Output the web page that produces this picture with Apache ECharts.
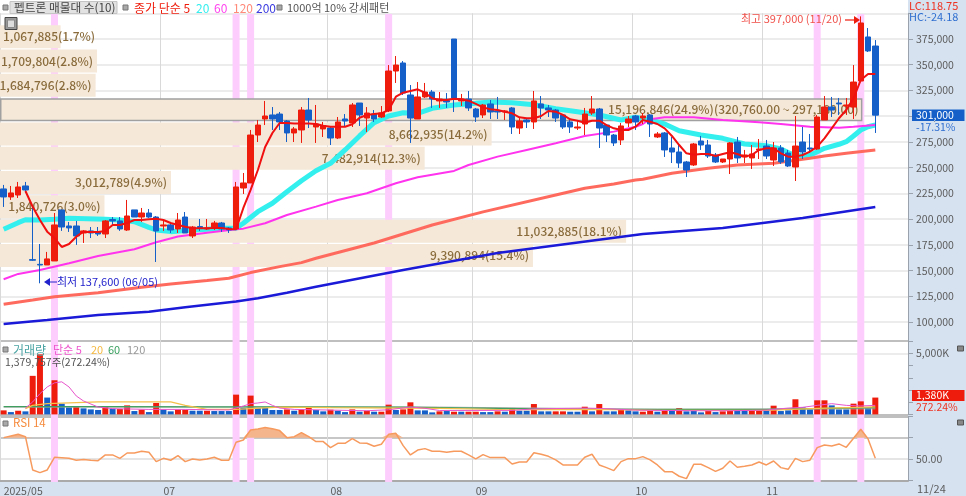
<!DOCTYPE html>
<html><head><meta charset="utf-8">
<style>html,body{margin:0;padding:0;background:#d6e2f0}#c{width:966px;height:496px}</style>
<script src="https://cdn.jsdelivr.net/npm/echarts@6/dist/echarts.min.js"></script>
</head><body><div id="c"></div>
<script>
// Prices are in thousands of won: [open, close, low, high]
const ohlc=[[229.3,221.5,211.8,233.2],[221.5,225.4,218.6,232.2],[223.4,231.2,220.5,236.1],[232.2,228.3,225.4,236.1],[160.6,160,159.3,211.8],[156,155.4,137.6,175.8],[155.4,161.3,155.4,168.1],[159.3,194.3,159.3,205.9],[208.9,192.3,188.5,208.9],[193.3,191.4,187.5,197.2],
[193.3,183.6,174.9,198.2],[186.5,188.5,176.8,189.4],[188.5,186.5,181.6,192.3],[187.5,185.5,183.6,192.3],[185.5,198.2,181.6,199.1],[199.6,198.2,193.3,202],[198.2,190.4,188.5,202],[189.4,203,188.5,218.6],[208.9,202,202,208.9],[202,205.9,197.2,210.8],
[205.9,202,201.1,209.8],[202,188.5,158.3,203],[193.3,194.3,188.5,199.1],[194.3,189.4,186.5,197.2],[190.4,199.1,186.5,205.9],[202,186.5,186.5,206.9],[183.6,192.3,181.6,193.3],[192.8,191.4,188.5,200.1],[190.4,191.4,189.4,200.1],[192.3,196.2,189.4,198.2],
[196.2,190.4,187.5,197.2],[191.4,189.4,186.5,192.3],[190.4,231.2,189.4,236.1],[230.2,235.1,224.4,244.8],[235.1,281.7,235.1,286.6],[281.7,291.4,274.9,296.3],[297.3,300.2,291.4,314.8],[301.2,297.3,286.6,308.9],[302.1,294.4,286.6,304.1],[295.3,283.7,274.9,296.3],
[283.7,287.6,274.9,289.5],[286.6,306,274,308.9],[306,296.3,288.5,317.7],[289.5,292.4,274,310.9],[287.6,290.5,279.8,294.4],[288.5,278.8,272,289.5],[278.8,294.4,277.8,299.2],[297.3,295.3,289.5,302.1],[293.4,310.9,289.5,312.8],[312.8,301.2,290.5,312.8],
[298.2,303.1,284.6,308.9],[302.1,297.3,294.4,306],[299.2,303.1,298.2,309.9],[305.1,343.9,304.1,349.7],[343.9,349.7,332.3,358.5],[351.7,322.5,320.6,353.6],[320.6,298.2,274,330.3],[297.3,318.7,297.3,333.2],[318.7,323.5,317.7,332.3],[323.5,316.7,308,325.5],
[314.8,316.7,308,323.5],[315.2,313.8,308,322.5],[375,317.7,304.1,375],[314.8,316.7,309.9,321.6],[316.7,308,305.1,324.5],[307,299.2,294.4,308],[301.2,310.9,298.2,311.9],[311.9,304.1,297.3,315.7],[305.1,304.1,297.3,318.7],[304.1,305.1,296.3,306],
[308,289.5,282.7,308.9],[288.5,295.3,282.7,298.2],[296.3,294.4,288.5,298.2],[294.4,314.8,287.6,324.5],[311.9,308,297.3,319.6],[308,306,299.2,310.9],[306,298.2,294.4,307],[301.2,289.5,287.6,302.1],[294.4,289.5,283.7,296.3],[288.5,289.5,286.6,296.3],
[292.4,302.1,281.7,308],[303.1,307,301.2,319.6],[307,288.5,269.1,308],[291.4,281.7,274.9,292.4],[281.7,274,271,282.7],[276.9,290.5,272,293.4],[293.4,297.3,289.5,300.2],[300.2,294.4,286.6,301.2],[298.2,300.2,292.4,303.1],[301.2,292.4,279.8,302.1],
[279.8,282.7,278.8,284.6],[283.7,267.2,260.4,284.6],[269.1,265.2,254.5,279.8],[265.2,254.5,249.7,273],[255.5,247.7,240.9,256.5],[252.6,273,251.6,274],[275.9,272,267.2,280.8],[272,261.3,259.4,276.9],[262.3,255.5,254.5,264.2],[255.5,258.4,254.5,258.4],
[258.4,274,243.8,274.9],[274.9,259.4,254.5,279.8],[260.4,262.3,254.5,267.2],[259.4,263.3,248.7,272],[267.2,268.1,258.4,277.8],[271,261.3,258.4,276.9],[257.4,269.1,251.6,274.9],[269.1,255.5,253.6,272],[264.2,251.6,250.6,267.2],[250.6,271,237,300.2],
[274.9,265.2,258.4,289.5],[269.1,268.1,264.2,282.7],[268.1,299.2,267.2,301.2],[296.3,308.9,296.3,319.6],[308.9,306,299.2,318.7],[312.8,311.9,301.2,317.7],[309.9,310.9,301.2,317.7],[308.9,333.2,297.3,349.7],[334.2,390.6,333.2,397],[377,363.4,362.4,385.7],[368.2,301,283.7,374]];
const ma5=[null,null,null,227.3,212,199.1,187.8,181.6,172.9,175.8,182.9,187.8,187.5,187.5,188.5,194.3,194.3,196.2,199.1,199.1,199.8,200.4,199.1,196.2,194.3,192.6,191,191,191,191.4,191.4,190.4,190.1,210.8,228.3,247.7,270,283.7,293.4,293.4,292.9,293,293,292.4,290.8,289.8,289.8,289.8,292.1,298.5,301.2,302.1,302.8,306,318.9,322.8,324.5,326.1,322.8,317.4,315.7,315.7,317,316.4,315.1,311.9,308.6,306.7,306,304.4,302.8,298.9,298,298,300.2,305,304.4,301.2,297,295.6,293.7,295.6,295.6,291.4,288.2,286.6,286.6,289.8,296.3,294.6,292.4,288.2,280.8,272,263.9,262.6,263.3,263.3,261.3,263.3,264.9,263.3,260.7,262.3,267.2,268.8,268.8,263.9,260.7,260.7,262.3,265.5,270.4,278.5,288.2,298,306,317.4,335.2,341,341];
const ma20=[[0,190.1],[2,196.5],[3,199.4],[5,199.1],[7,199.8],[9,200.8],[14,199.8],[16,199.1],[18,197.5],[20,192],[21,189.4],[23,187.8],[25,188.8],[28,190.1],[30,191.1],[32,191.1],[33,195.9],[35,207.2],[37,215.4],[39,226.6],[41,237.3],[43,247],[45,254.2],[47,267.2],[49,280.8],[51,293.7],[53,300.2],[55,303.4],[57,302.8],[59,307.7],[62,310.9],[65,312.5],[67,313.8],[70,313.1],[73,311.2],[76,307.3],[79,304.4],[82,301.2],[85,296.3],[87,298.9],[89,296.3],[91,292.4],[93,285.9],[96,281.7],[99,278.5],[102,273],[105,271.3],[107,268.1],[109,261.3],[111,262],[113,268.8],[115,272.7],[116,275.2],[117,280.8],[118,286.6],[119,289.8],[120,291.4]];
const ma60=[[0,141.5],[2,146.7],[5,150.6],[9,157.1],[13,164.2],[18,170.7],[21,177.5],[24,183],[28,186.8],[32,190.1],[33,190.7],[36,195.9],[39,204],[43,212.1],[46,218.6],[50,225.1],[54,234.8],[57,240.6],[62,246.8],[64,252.6],[68,260.7],[72,267.2],[76,273.7],[80,280.8],[84,285],[87,289.8],[88,292.4],[89,297],[91,298.9],[95,298.9],[99,296.3],[104,294.1],[107,292.4],[111,289.8],[115,288.8],[117,289.8],[120,291.4]];
const ma120=[[0,117.2],[4,121.4],[7,124.6],[13,128.5],[19,133.8],[23,137],[28,140.2],[31,142.5],[34,148],[38,153.8],[41,157.7],[43,161.9],[51,176.8],[59,194.3],[66,207],[76,223.4],[80,229.9],[84,234.1],[87,238],[88,238.7],[92,244.5],[97,249.4],[101,252.6],[106,254.2],[111,259.1],[113,261.3],[116,264],[120,267.2]];
const ma200=[[0,98.1],[6,102],[13,106.8],[20,110],[25,114.3],[32,119.8],[35,123.1],[39,128.5],[43,134.3],[55,150.6],[68,167.1],[88,185.5],[99,191.4],[110,201.1],[120,211.8]];
// Volume in thousands of shares; r = rising bar, b = falling bar
const volume=[330,190,300,250,3160,4920,1380,2800,880,580,690,495,410,360,690,470,440,740,275,385,190,935,385,250,385,385,300,300,300,275,275,275,1620,520,1540,520,580,360,360,410,300,410,580,360,250,385,300,190,410,220,300,220,220,800,360,410,990,330,330,165,250,275,220,220,220,220,190,190,250,220,495,300,300,850,250,250,250,250,220,220,630,250,850,250,250,410,330,250,220,300,220,300,300,520,250,300,165,275,190,250,410,410,300,300,360,360,715,275,330,1240,580,410,1155,1155,740,410,410,880,1070,520,1380];
const volumeDir="rbrbrrbrbb"+"rbbbrbrrbr"+"brbbrrbbrb"+"bbrbrbbbbr"+"brrb"+"brbbrb"+"rbrrbrrbbb"+"rbrbrrbbrb"+"rbbrbbrrbb"+"rbrbbrbb"+"rrbrbrbbbrbr"+"rbbrrbrbbr"+"bbrrbbbrrbr";
const volMa5=[[3,520],[4,1020],[5,1700],[6,2250],[7,2585],[8,2670],[9,2250],[10,1510],[11,1100],[13,605],[15,470],[20,410],[25,410],[31,360],[32,520],[33,690],[34,880],[35,935],[36,1020],[37,740],[38,520],[40,410],[50,300],[53,380],[56,605],[58,500],[60,320],[70,330],[73,450],[80,520],[83,470],[87,350],[95,300],[100,300],[105,350],[108,520],[110,580],[112,740],[114,880],[116,740],[118,690],[120,740]];
const volMa20=[[3,470],[4,740],[6,880],[13,1020],[23,1020],[25,740],[28,410],[32,410],[38,600],[45,550],[60,500],[70,380],[80,420],[90,340],[105,330],[112,500],[120,620]];
const volMa60=[[0,640],[15,640],[29,620],[40,620],[55,600],[65,520],[80,410],[105,410],[120,550]];
const volMa120=[[0,600],[60,600],[90,420],[120,460]];
const rsi=[70,71.6,73.1,70.9,39.7,37.2,39.7,51.6,51.2,50.6,48.8,49.4,48.8,48.4,53.8,53.8,50.6,55.6,55.6,57.2,56.3,47.5,50.6,48.8,53.1,47.5,50,49.1,50,51.6,48.8,48.8,65.6,67.8,77.2,78.1,79.4,78.4,76.6,70,70.9,74.7,70.9,66.3,66.3,60.6,64.7,64.7,69.1,65,64.7,61.9,63.8,73.1,74.1,62.5,53.8,58.4,59.7,57.2,57.2,56.3,57.2,57.2,53.8,50,54.1,51.3,51.3,51.3,45.3,47.2,47.2,55.9,54.4,52.5,49.1,44.4,44.4,44.4,51.6,54.4,44.4,41.9,39.1,47.5,50.3,50.3,52.2,49.1,44.4,38.1,38.1,33.8,31.6,45,45,41.9,38.4,41.3,48.1,42.2,43.1,44.4,47.2,44.4,48.1,41.9,40.3,50.6,47.5,48.8,60.6,63.1,62.2,64.1,60.9,69.4,77.8,68.8,50.6];
const profileVolumes=[1067885,1709804,1684796,15196846,8662935,7482914,3012789,1840726,11032885,9390894];
const profileLabels=['1,067,885(1.7%)','1,709,804(2.8%)','1,684,796(2.8%)','15,196,846(24.9%)(320,760.00 ~ 297,180.00)','8,662,935(14.2%)','7,482,914(12.3%)','3,012,789(4.9%)','1,840,726(3.0%)','11,032,885(18.1%)','9,390,894(15.4%)'];
const highlightDays=[7,32,34,53,112,118];
const tickIndex=[0,22,45,65,87,105];
const tickLabels=['2025/05','07','08','09','10','11'];
const categories=Array.from({length:125},(_,i)=>String(i));
const won=v=>Math.round(v*1000);
const F="'Noto Sans CJK KR','Noto Sans',sans-serif";
const RED='#ee1c0c',BLUE='#1560c8',GRID='#e6e6e6',VLINE='#d9d9d9',AX='#9aa3ad',TXT='#5c5c5c';
const pairs=a=>a.map(p=>[p[0],won(p[1])]);

const isTick=i=>tickIndex.indexOf(+i)>=0;
const baseX=(gi,extra)=>Object.assign({type:'category',gridIndex:gi,data:categories,boundaryGap:true,
  axisLine:{show:false},axisTick:{show:false},axisLabel:{show:false},
  splitLine:{show:true,interval:(i)=>isTick(i),lineStyle:{color:VLINE,width:1}}},extra||{});
const hiddenX=(gi)=>({type:'category',gridIndex:gi,data:categories,show:false});

const txt=(x,y,t,fill,size)=>({type:'text',z:100,x,y,style:{text:t,fill,font:(size||12)+"px "+F,textVerticalAlign:'middle'}});
const box=(x,y,w,h,fill,stroke)=>({type:'rect',z:99,shape:{x,y,width:w,height:h},style:{fill,stroke:stroke||null,lineWidth:1}});
const icon=(x,y)=>box(x,y,5,5,'#a9a9a9','#777');
const axisText={margin:8,color:TXT,fontSize:10.5,fontFamily:F};

const option={
 animation:false,backgroundColor:'#d6e2f0',textStyle:{fontFamily:F},
 grid:[
  {left:0,width:908,top:13.3,height:334.4},
  {left:0,width:908,top:341.2,height:73.2},
  {left:0,width:908,top:416.3,height:64},
  {left:0,width:908,top:14,height:468},
  {left:0,width:908,top:24.6,height:243}
 ],
 xAxis:[
  baseX(0),baseX(1),
  baseX(2,{axisLine:{show:true,lineStyle:{color:'#aaa',width:2}},
    axisLabel:{show:true,interval:(i)=>isTick(i),align:'left',margin:5,color:TXT,fontSize:10.5,fontFamily:F,
      formatter:(v)=>tickLabels[tickIndex.indexOf(+v)]}}),
  hiddenX(3),
  {type:'value',gridIndex:4,min:0,max:16000000,show:false}
 ],
 yAxis:[
  {type:'value',gridIndex:0,position:'right',min:75000,max:400000,interval:25000,
   axisLine:{show:true,lineStyle:{color:AX}},axisTick:{show:true,length:5,lineStyle:{color:AX}},
   axisLabel:Object.assign({showMinLabel:false,formatter:v=>(v>=100000&&v<=375000)?v.toLocaleString('en-US'):''},axisText),
   splitLine:{show:true,showMinLine:false,lineStyle:{color:GRID,width:1.5}}},
  {type:'value',gridIndex:1,position:'right',min:0,max:6000,interval:1000,
   axisLine:{show:true,lineStyle:{color:AX}},axisTick:{show:true,length:5,lineStyle:{color:AX}},
   axisLabel:Object.assign({formatter:v=>v===5000?'5,000K':''},axisText),
   splitLine:{show:true,lineStyle:{color:['#aaaaaa','rgba(0,0,0,0)','rgba(0,0,0,0)','rgba(0,0,0,0)','rgba(0,0,0,0)','#e6e6e6','#aaaaaa'],width:1.5}}},
  {type:'value',gridIndex:2,position:'right',min:30,max:90,interval:20,
   axisLine:{show:true,lineStyle:{color:AX}},axisTick:{show:true,length:5,lineStyle:{color:AX}},
   axisLabel:Object.assign({formatter:v=>v===50?'50.00':''},axisText),
   splitLine:{show:true,lineStyle:{color:['#aaaaaa','#dcdcdc','#b4b4b4','#aaaaaa'],width:1.5}}},
  {type:'value',gridIndex:3,min:0,max:1,show:false},
  {type:'category',gridIndex:4,inverse:true,data:profileLabels,show:false}
 ],
 graphic:{elements:[
  {type:'rect',z:-10,shape:{x:0,y:0,width:908,height:482},style:{fill:'#ffffff'}},
  icon(3,5),
  box(10,1.5,107,12,'#e2e2e2','#c4c4c4'),
  txt(14,8,'펩트론 매물대 수(10)','#444',11.7),
  icon(123,5),
  txt(134,8,'종가 단순 5',RED),
  txt(196,8,'20','#35eeee'),
  txt(214,8,'60','#ff44ee'),
  txt(233,8,'120','#ff8a7a'),
  txt(256,8,'200','#3a3ae0'),
  icon(277,5),
  txt(287,8,'1000억 10% 강세패턴','#555',11),
  box(5,17.5,12,12,'#999','#444'),
  box(7.5,20,7,7.5,'#ddd','#888'),
  // low and high callouts
  txt(57,282,'최저 137,600 (06/05)','#2222cc',11),
  {type:'polygon',z:100,shape:{points:[[44,282],[50,278],[50,286]]},style:{fill:'#2222cc'}},
  {type:'line',z:100,shape:{x1:48,y1:282,x2:57,y2:282},style:{stroke:'#2222cc',lineWidth:1}},
  txt(741,19,'최고 397,000 (11/20)','#f0504a',11),
  {type:'line',z:100,shape:{x1:845,y1:20,x2:856,y2:20},style:{stroke:RED,lineWidth:1.2}},
  {type:'polygon',z:100,shape:{points:[[860,20],[854,16],[854,24]]},style:{fill:RED}},
  // right panel read-outs
  txt(909,6,'LC:118.75','#ee3322',11),
  txt(909,17,'HC:-24.18','#2f6fd0',11),
  box(912,109.5,52.5,11.5,BLUE),
  txt(916,115,'301,000','#ffffff',10.5),
  txt(916,127,'-17.31%','#2f6fd0',10.5),
  box(912,390,52.5,11,RED),
  txt(916,395.5,'1,380K','#ffffff',10.5),
  txt(916,407,'272.24%','#ee3322',10.5),
  box(957.5,346,6,5,'#888','#555'),
  box(957.5,420,6,5,'#888','#555'),
  // volume legend
  icon(3,347),
  txt(13,350,'거래량','#4aa3a3'),
  txt(53,350,'단순 5','#ee55cc',11),
  txt(91,350,'20','#f5b942',11),
  txt(108,350,'60','#3aa060',11),
  txt(127,350,'120','#999',11),
  txt(5,362,'1,379,757주(272.24%)','#555',10.5),
  // RSI legend
  icon(3,421),
  txt(13,423,'RSI 14','#f58a3c',11.5),
  // date on the right end of the axis
  txt(917,489,'11/24',TXT,11)
 ]},
 series:[
  {name:'highlight',type:'bar',xAxisIndex:3,yAxisIndex:3,z:1,barWidth:7,silent:true,
   data:highlightDays.map(i=>[i,1]),itemStyle:{color:'#fdcdfd'}},
  {name:'profile',type:'bar',xAxisIndex:4,yAxisIndex:4,z:2,barWidth:23,silent:true,
   data:profileVolumes.map((v,i)=>({value:v,
     label:i===0?{position:'insideLeft',distance:3}:undefined,
     itemStyle:i===3?{color:'#f5e8d8',borderColor:'#a0a0a0',borderWidth:1.5}:{color:'#f5e8d8'}})),
   label:{show:true,position:'insideRight',distance:4,color:'#8a6c3c',fontSize:12,fontWeight:500,fontFamily:F,
     formatter:p=>profileLabels[p.dataIndex]}},
  {name:'MA20',type:'line',xAxisIndex:0,yAxisIndex:0,z:3,data:pairs(ma20),showSymbol:false,lineStyle:{color:'#33f0ee',width:5}},
  {name:'MA60',type:'line',xAxisIndex:0,yAxisIndex:0,z:3,data:pairs(ma60),showSymbol:false,lineStyle:{color:'#ff33ee',width:2}},
  {name:'MA120',type:'line',xAxisIndex:0,yAxisIndex:0,z:3,data:pairs(ma120),showSymbol:false,lineStyle:{color:'#ff6a5e',width:3}},
  {name:'MA200',type:'line',xAxisIndex:0,yAxisIndex:0,z:3,data:pairs(ma200),showSymbol:false,lineStyle:{color:'#1a1ad8',width:2.5}},
  {name:'candles',type:'candlestick',xAxisIndex:0,yAxisIndex:0,z:4,barWidth:6,
   data:ohlc.map(r=>r.map(won)),
   itemStyle:{color:RED,color0:BLUE,borderColor:RED,borderColor0:BLUE,borderWidth:1}},
  {name:'MA5',type:'line',xAxisIndex:0,yAxisIndex:0,z:5,data:ma5.map(v=>v==null?null:won(v)),showSymbol:false,lineStyle:{color:'#f01010',width:2}},
  {name:'volume',type:'bar',xAxisIndex:1,yAxisIndex:1,z:3,barWidth:6,
   data:volume.map((v,i)=>({value:v,itemStyle:{color:volumeDir[i]==='r'?RED:BLUE}}))},
  {name:'vol120',type:'line',xAxisIndex:1,yAxisIndex:1,z:4,data:volMa120,showSymbol:false,lineStyle:{color:'#aaaaaa',width:1}},
  {name:'vol60',type:'line',xAxisIndex:1,yAxisIndex:1,z:4,data:volMa60,showSymbol:false,lineStyle:{color:'#3f9f5f',width:1.2}},
  {name:'vol20',type:'line',xAxisIndex:1,yAxisIndex:1,z:4,data:volMa20,showSymbol:false,lineStyle:{color:'#f5c04a',width:1.2}},
  {name:'vol5',type:'line',xAxisIndex:1,yAxisIndex:1,z:4,data:volMa5,showSymbol:false,lineStyle:{color:'#e855cc',width:1}},
  {name:'rsiFill',type:'line',xAxisIndex:2,yAxisIndex:2,z:3,data:rsi.map(v=>Math.max(v,70)),showSymbol:false,
   lineStyle:{width:0},areaStyle:{color:'#f4b48c',origin:70,opacity:1}},
  {name:'rsi',type:'line',xAxisIndex:2,yAxisIndex:2,z:4,data:rsi,showSymbol:false,lineStyle:{color:'#f79a5e',width:1.5}}
 ]
};
echarts.init(document.getElementById('c'),null,{renderer:'canvas'}).setOption(option);
</script></body></html>
